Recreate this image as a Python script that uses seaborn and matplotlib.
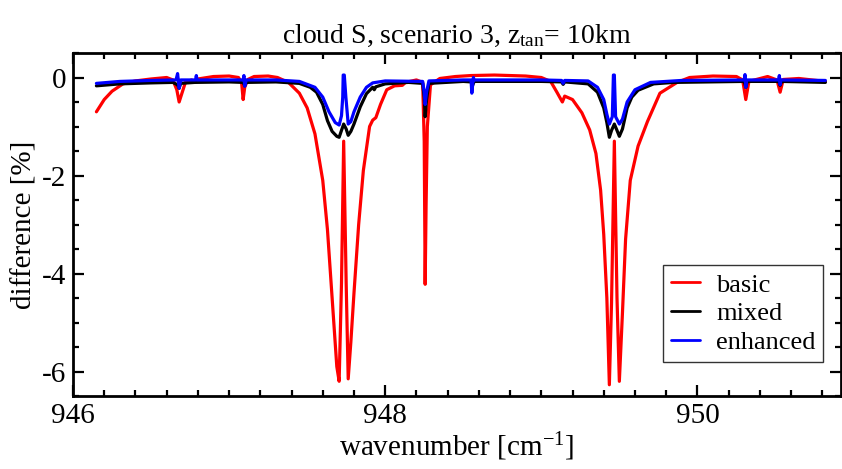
import numpy as np
import pandas as pd
import matplotlib
matplotlib.use("Agg")
import matplotlib.pyplot as plt
from matplotlib.ticker import MultipleLocator
import seaborn as sns

# Spectral difference, basic retrieval scheme
wn_basic = [946.15, 946.20, 946.25, 946.32, 946.40, 946.50, 946.60, 946.64, 946.665,
            946.68, 946.70, 946.72, 946.76, 946.78, 946.80, 946.90, 947.00, 947.06,
            947.08, 947.09, 947.10, 947.12, 947.16, 947.25, 947.31, 947.38, 947.45,
            947.50, 947.55, 947.60, 947.63, 947.66, 947.69, 947.705, 947.72, 947.734,
            947.75, 947.763, 947.78, 947.80, 947.83, 947.86, 947.90, 947.92, 947.94,
            947.97, 948.01, 948.06, 948.11, 948.13, 948.20, 948.24, 948.25, 948.256,
            948.262, 948.27, 948.29, 948.35, 948.45, 948.55, 948.70, 948.90, 949.00,
            949.06, 949.10, 949.135, 949.15, 949.20, 949.26, 949.31, 949.35, 949.38,
            949.40, 949.42, 949.436, 949.45, 949.468, 949.485, 949.50, 949.52, 949.54,
            949.57, 949.62, 949.68, 949.76, 949.87, 949.95, 950.10, 950.25, 950.29,
            950.31, 950.33, 950.45, 950.51, 950.53, 950.55, 950.65, 950.82]
diff_basic = [-0.70, -0.45, -0.28, -0.13, -0.07, -0.03, 0.00, -0.05, -0.25,
              -0.50, -0.30, -0.10, -0.05, -0.10, -0.03, 0.02, 0.03, 0.00,
              -0.10, -0.45, -0.20, -0.04, 0.02, 0.03, 0.00, -0.10, -0.32,
              -0.62, -1.15, -2.10, -3.10, -4.50, -5.90, -6.20, -4.20, -1.30,
              -4.20, -6.15, -5.40, -4.40, -3.00, -1.90, -1.00, -0.87, -0.82,
              -0.55, -0.25, -0.17, -0.16, -0.10, -0.05, -0.10, -1.30, -4.22,
              -2.60, -1.00, -0.15, -0.02, 0.02, 0.04, 0.05, 0.03, 0.00,
              -0.08, -0.30, -0.50, -0.38, -0.45, -0.72, -1.07, -1.55, -2.30,
              -3.20, -4.50, -6.27, -4.60, -1.30, -4.50, -6.20, -4.80, -3.30,
              -2.10, -1.40, -0.90, -0.32, -0.10, 0.00, 0.03, 0.02, -0.05,
              -0.45, -0.08, 0.02, -0.05, -0.30, -0.04, -0.02, -0.08]

# Spectral difference, mixed retrieval scheme
wn_mixed = [946.15, 946.30, 946.50, 946.64, 946.67, 946.68, 946.69, 946.78, 947.00,
            947.09, 947.10, 947.11, 947.30, 947.45, 947.52, 947.56, 947.60, 947.63,
            947.66, 947.69, 947.705, 947.72, 947.734, 947.75, 947.763, 947.78, 947.80,
            947.84, 947.88, 947.92, 947.93, 947.94, 948.00, 948.15, 948.24, 948.25,
            948.256, 948.265, 948.28, 948.50, 948.55, 948.56, 948.57, 949.00, 949.13,
            949.14, 949.15, 949.30, 949.36, 949.40, 949.42, 949.436, 949.45, 949.468,
            949.485, 949.50, 949.52, 949.55, 949.58, 949.62, 949.72, 949.85, 950.30,
            950.31, 950.32, 950.52, 950.53, 950.54, 950.82]
diff_mixed = [-0.17, -0.13, -0.11, -0.10, -0.15, -0.22, -0.12, -0.10, -0.09,
              -0.10, -0.17, -0.10, -0.09, -0.12, -0.20, -0.30, -0.55, -0.88,
              -1.10, -1.20, -1.22, -1.08, -0.95, -1.05, -1.18, -1.10, -0.95,
              -0.60, -0.33, -0.20, -0.25, -0.19, -0.13, -0.10, -0.12, -0.40,
              -0.80, -0.45, -0.12, -0.08, -0.09, -0.16, -0.08, -0.08, -0.09,
              -0.14, -0.09, -0.13, -0.30, -0.62, -0.92, -1.22, -1.08, -0.95,
              -1.08, -1.20, -1.05, -0.62, -0.40, -0.26, -0.13, -0.10, -0.08,
              -0.20, -0.08, -0.08, -0.16, -0.08, -0.10]

# Spectral difference, enhanced retrieval scheme
wn_enh = [946.15, 946.30, 946.50, 946.66, 946.67, 946.68, 946.69, 946.70, 946.785,
          946.79, 946.795, 947.00, 947.09, 947.095, 947.10, 947.11, 947.30, 947.45,
          947.55, 947.60, 947.64, 947.68, 947.705, 947.72, 947.728, 947.731, 947.738,
          947.748, 947.763, 947.78, 947.80, 947.84, 947.88, 947.92, 948.00, 948.24,
          948.25, 948.256, 948.265, 948.28, 948.50, 948.55, 948.555, 948.565, 948.57,
          949.00, 949.13, 949.14, 949.15, 949.30, 949.36, 949.40, 949.42, 949.436,
          949.455, 949.462, 949.468, 949.476, 949.50, 949.52, 949.55, 949.60, 949.70,
          949.90, 950.30, 950.305, 950.31, 950.315, 950.52, 950.525, 950.53, 950.535,
          950.82]
diff_enh = [-0.12, -0.08, -0.06, -0.05, 0.08, -0.22, -0.05, -0.05, -0.05,
            0.04, -0.05, -0.05, -0.05, 0.04, -0.18, -0.05, -0.05, -0.08,
            -0.20, -0.40, -0.70, -0.92, -0.97, -0.78, -0.40, 0.05, 0.05,
            -0.40, -0.95, -0.90, -0.70, -0.40, -0.20, -0.11, -0.07, -0.08,
            -0.30, -0.55, -0.30, -0.07, -0.05, -0.05, -0.32, 0.00, -0.05,
            -0.05, -0.06, -0.12, -0.06, -0.07, -0.20, -0.45, -0.75, -0.95,
            -0.80, 0.05, 0.05, -0.80, -0.95, -0.85, -0.50, -0.25, -0.10,
            -0.06, -0.05, 0.06, -0.20, -0.05, -0.05, 0.04, -0.15, -0.05,
            -0.06]

schemes = ["basic", "mixed", "enhanced"]
colors = ["#ff0000", "#000000", "#0000ff"]

frames = [
    pd.DataFrame({"wavenumber": wn_basic, "difference": diff_basic, "scheme": "basic"}),
    pd.DataFrame({"wavenumber": wn_mixed, "difference": diff_mixed, "scheme": "mixed"}),
    pd.DataFrame({"wavenumber": wn_enh, "difference": diff_enh, "scheme": "enhanced"}),
]
data = pd.concat(frames, ignore_index=True)

sns.set_theme(style="ticks")
plt.rcParams["font.family"] = ["Liberation Serif", "DejaVu Serif"]
plt.rcParams["mathtext.fontset"] = "custom"
plt.rcParams["mathtext.rm"] = "Liberation Serif"
plt.rcParams["mathtext.it"] = "Liberation Serif:italic"
plt.rcParams["axes.unicode_minus"] = False
plt.rcParams["text.color"] = "black"
plt.rcParams["axes.labelcolor"] = "black"
plt.rcParams["axes.titlecolor"] = "black"

fig = plt.figure(figsize=(8.42, 4.69), dpi=100)
ax = fig.add_axes([73 / 842, 1 - 396 / 469, 768 / 842, 343 / 469])

sns.lineplot(data=data, x="wavenumber", y="difference", hue="scheme",
             hue_order=schemes, palette=dict(zip(schemes, colors)),
             estimator=None, sort=False, linewidth=2.3, ax=ax)

ax.set_xlim(946.0, 950.92)
ax.set_ylim(-6.5, 0.5)
ax.xaxis.set_major_locator(MultipleLocator(2))
ax.xaxis.set_minor_locator(MultipleLocator(0.2))
ax.yaxis.set_major_locator(MultipleLocator(2))
ax.yaxis.set_minor_locator(MultipleLocator(0.5))
ax.tick_params(which="both", direction="in", top=True, right=True,
               width=1.6, colors="black", labelsize=21)
ax.tick_params(which="major", length=8, pad=5)
ax.tick_params(which="minor", length=4)
for sp in ax.spines.values():
    sp.set_linewidth(2.0)
    sp.set_color("black")

ax.set_xlabel("wavenumber [cm$^{-1}$]", fontsize=21, labelpad=1)
ax.set_ylabel("difference [%]", fontsize=21, labelpad=3)
ax.set_title("cloud S, scenario 3, z$_{\\rm tan}$= 10km", fontsize=20, pad=7)

leg = ax.legend(loc="lower right", bbox_to_anchor=(0.977, 0.099), fontsize=19,
                frameon=True, fancybox=False, handlelength=1.1, handletextpad=0.6,
                borderpad=0.3, labelspacing=0.2, borderaxespad=0)
leg.get_frame().set_edgecolor("black")
leg.get_frame().set_linewidth(1.0)
for line in leg.get_lines():
    line.set_linewidth(2.0)
for txt in leg.get_texts():
    txt.set_color("black")

fig.savefig("out.png", dpi=100)
